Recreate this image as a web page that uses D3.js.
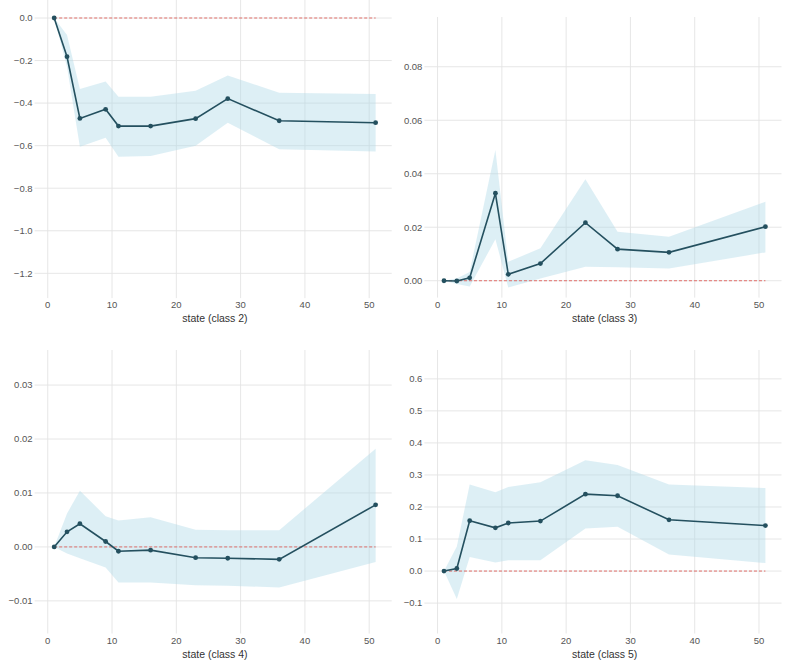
<!DOCTYPE html>
<html>
<head>
<meta charset="utf-8">
<script src="https://cdn.jsdelivr.net/npm/d3@7"></script>
<style>
  html, body { margin: 0; padding: 0; background: #fff; }
  svg { display: block; }
</style>
</head>
<body>
<svg id="chart" width="788" height="661"></svg>
<script>
// ---------- data ----------
const states = [1, 3, 5, 9, 11, 16, 23, 28, 36, 51];
const xTicks = [0, 10, 20, 30, 40, 50];

const class2Mean  = [0, -0.182, -0.472, -0.429, -0.508, -0.508, -0.473, -0.379, -0.483, -0.492];
const class2Upper = [0, -0.08, -0.334, -0.299, -0.370, -0.370, -0.342, -0.270, -0.351, -0.357];
const class2Lower = [0, -0.23, -0.605, -0.563, -0.652, -0.649, -0.600, -0.492, -0.617, -0.628];

const class3Mean  = [0, -0.0001, 0.0011, 0.0327, 0.0024, 0.0064, 0.0217, 0.0118, 0.0106, 0.0202];
const class3Upper = [0, 0.0008, 0.0033, 0.0489, 0.0071, 0.0121, 0.0379, 0.0183, 0.0164, 0.0295];
const class3Lower = [0, -0.0012, -0.0022, 0.0155, -0.0025, 0.0008, 0.0052, 0.0050, 0.0046, 0.0106];

const class4Mean  = [0, 0.0028, 0.0043, 0.0010, -0.0008, -0.0006, -0.0020, -0.0021, -0.0023, 0.0078];
const class4Upper = [0, 0.0062, 0.0104, 0.0057, 0.0049, 0.0055, 0.0032, 0.0031, 0.0031, 0.0182];
const class4Lower = [0, -0.0012, -0.0021, -0.0038, -0.0066, -0.0066, -0.0071, -0.0072, -0.0075, -0.0028];

const class5Mean  = [0, 0.008, 0.157, 0.135, 0.150, 0.156, 0.240, 0.235, 0.160, 0.142];
const class5Upper = [0, 0.077, 0.270, 0.246, 0.262, 0.277, 0.346, 0.331, 0.270, 0.259];
const class5Lower = [0, -0.087, 0.044, 0.027, 0.034, 0.034, 0.133, 0.138, 0.052, 0.025];

const class2Ticks = [0, -0.2, -0.4, -0.6, -0.8, -1.0, -1.2];
const class3Ticks = [0, 0.02, 0.04, 0.06, 0.08];
const class4Ticks = [-0.01, 0, 0.01, 0.02, 0.03];
const class5Ticks = [-0.1, 0, 0.1, 0.2, 0.3, 0.4, 0.5, 0.6];

const xLabels = ["state (class 2)", "state (class 3)", "state (class 4)", "state (class 5)"];

// ---------- layout ----------
const panels = [
  { label: xLabels[0], mean: class2Mean, upper: class2Upper, lower: class2Lower, ticks: class2Ticks, fmt: ".1f",
    yDomain: [-1.3, 0.0846], x0: 38.1, x1: 391.7, y0: 0, y1: 294.6 },
  { label: xLabels[1], mean: class3Mean, upper: class3Upper, lower: class3Lower, ticks: class3Ticks, fmt: ".2f",
    yDomain: [-0.005, 0.0986], x0: 427.9, x1: 781.5, y0: 17, y1: 294.1 },
  { label: xLabels[2], mean: class4Mean, upper: class4Upper, lower: class4Lower, ticks: class4Ticks, fmt: ".2f",
    yDomain: [-0.0154, 0.0365], x0: 38.1, x1: 391.7, y0: 350, y1: 630 },
  { label: xLabels[3], mean: class5Mean, upper: class5Upper, lower: class5Lower, ticks: class5Ticks, fmt: ".1f",
    yDomain: [-0.184, 0.69], x0: 427.9, x1: 781.5, y0: 350, y1: 630 }
];

const svg = d3.select("#chart");
const FONT = "'Liberation Sans', Arial, sans-serif";
const lineColor = "#24505f";
const gridColor = "#e3e3e3";

panels.forEach(p => {
  const x = d3.scaleLinear().domain([-1.5, 53.5]).range([p.x0, p.x1]);
  const y = d3.scaleLinear().domain(p.yDomain).range([p.y1, p.y0]);
  const g = svg.append("g");
  const rows = states.map((s, i) => ({ s, m: p.mean[i], lo: p.lower[i], hi: p.upper[i] }));

  // grid: vertical
  g.append("g").selectAll("line").data(xTicks).join("line")
    .attr("x1", d => x(d)).attr("x2", d => x(d))
    .attr("y1", p.y0).attr("y2", p.y1 + 3.5)
    .attr("stroke", gridColor).attr("stroke-width", 0.9);
  // grid: horizontal
  g.append("g").selectAll("line").data(p.ticks).join("line")
    .attr("x1", p.x0 - 3.5).attr("x2", p.x1)
    .attr("y1", d => y(d)).attr("y2", d => y(d))
    .attr("stroke", gridColor).attr("stroke-width", 0.9);

  // y tick labels
  const fmt = d3.format(p.fmt);
  g.append("g").selectAll("text").data(p.ticks).join("text")
    .attr("x", p.x0 - 5.5).attr("y", d => y(d))
    .attr("dy", "0.35em").attr("text-anchor", "end")
    .attr("font-family", FONT).attr("font-size", 9.5).attr("fill", "#555")
    .text(d => fmt(d).replace("-", "\u2212"));
  // x tick labels
  g.append("g").selectAll("text").data(xTicks).join("text")
    .attr("x", d => x(d)).attr("y", p.y1 + 10.5)
    .attr("dy", "0.35em").attr("text-anchor", "middle")
    .attr("font-family", FONT).attr("font-size", 9.5).attr("fill", "#555")
    .text(d => d);
  // x axis label
  g.append("text")
    .attr("x", (p.x0 + p.x1) / 2).attr("y", p.y1 + 24)
    .attr("dy", "0.35em").attr("text-anchor", "middle")
    .attr("font-family", FONT).attr("font-size", 10.5).attr("fill", "#333")
    .text(p.label);

  // band
  const area = d3.area().x(d => x(d.s)).y0(d => y(d.lo)).y1(d => y(d.hi));
  g.append("path").datum(rows).attr("d", area)
    .attr("fill", "#add8e6").attr("fill-opacity", 0.42);

  // zero line
  g.append("line")
    .attr("x1", x(states[0])).attr("x2", x(states[states.length - 1]))
    .attr("y1", y(0)).attr("y2", y(0))
    .attr("stroke", "#e0605a").attr("stroke-width", 0.9)
    .attr("stroke-dasharray", "3,2");

  // mean line
  const line = d3.line().x(d => x(d.s)).y(d => y(d.m));
  g.append("path").datum(rows).attr("d", line)
    .attr("fill", "none").attr("stroke", lineColor).attr("stroke-width", 1.6);
  g.append("g").selectAll("circle").data(rows).join("circle")
    .attr("cx", d => x(d.s)).attr("cy", d => y(d.m)).attr("r", 2.4)
    .attr("fill", lineColor);
});
</script>
</body>
</html>
